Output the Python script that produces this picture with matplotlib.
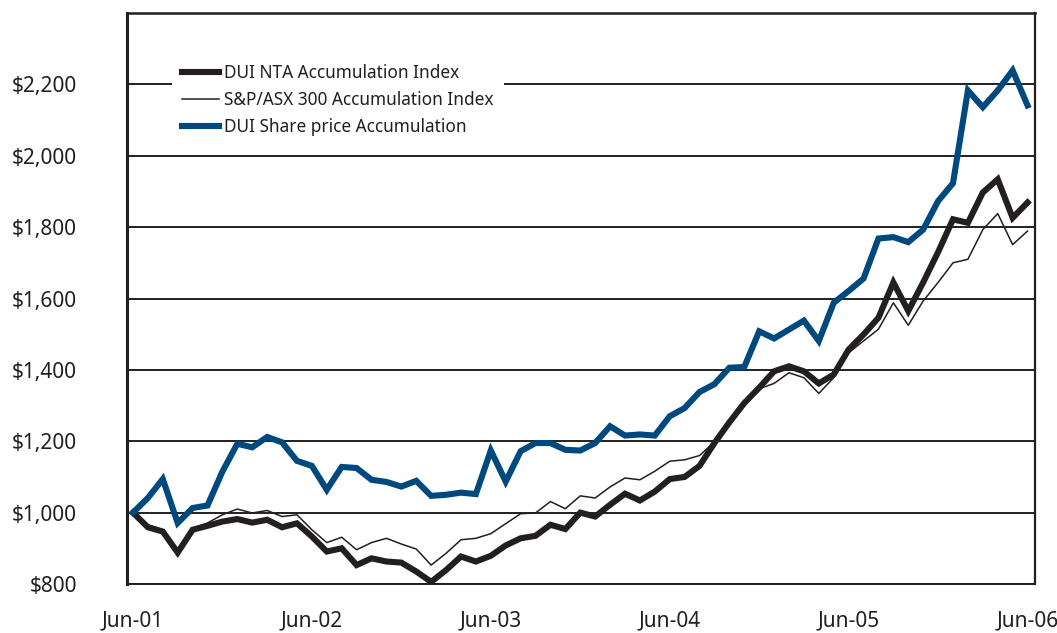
import matplotlib.pyplot as plt

plt.rcParams['font.family'] = ['Noto Sans', 'DejaVu Sans']

# month index 0 = Jun-01 ... 60 = Jun-06
x_ticks = [0, 12, 24, 36, 48, 60]
x_labels = ['Jun-01', 'Jun-02', 'Jun-03', 'Jun-04', 'Jun-05', 'Jun-06']
y_ticks = [800, 1000, 1200, 1400, 1600, 1800, 2000, 2200]

nta = [1000, 959, 947, 888, 952, 963, 975, 982, 972, 980,
       959, 970, 933, 891, 900, 853, 872, 863, 860, 835,
       806, 839, 877, 863, 879, 908, 928, 935, 966, 954,
       1000, 989, 1022, 1053, 1034, 1059, 1094, 1100, 1131, 1195,
       1253, 1307, 1350, 1396, 1410, 1396, 1362, 1387, 1457, 1499,
       1546, 1645, 1565, 1645, 1730, 1822, 1812, 1897, 1934, 1826, 1869]

asx300 = [1000, 966, 952, 896, 956, 971, 994, 1010, 999, 1006,
          989, 994, 952, 916, 931, 896, 916, 928, 912, 898,
          853, 886, 924, 928, 941, 969, 997, 999, 1031, 1011,
          1047, 1041, 1072, 1097, 1092, 1116, 1144, 1148, 1160, 1198,
          1245, 1300, 1347, 1362, 1392, 1378, 1334, 1378, 1448, 1481,
          1514, 1588, 1525, 1593, 1645, 1700, 1710, 1793, 1838, 1751, 1789]

share = [1000, 1041, 1094, 971, 1013, 1020, 1115, 1193, 1183, 1212,
         1197, 1145, 1131, 1064, 1128, 1125, 1092, 1086, 1073, 1089,
         1047, 1050, 1056, 1052, 1174, 1087, 1172, 1195, 1195, 1176,
         1174, 1195, 1242, 1216, 1219, 1216, 1270, 1293, 1338, 1360,
         1406, 1408, 1508, 1488, 1513, 1538, 1481, 1588, 1621, 1656,
         1768, 1772, 1758, 1793, 1873, 1923, 2183, 2136, 2183, 2239, 2141]

dark = '#231f20'
blue = '#00497e'

fig = plt.figure(figsize=(10.57, 6.33), dpi=100)
ax = fig.add_axes([127/1057, 1 - 584/633, (1035 - 127)/1057, (584 - 13)/633])

months = range(len(nta))
ax.plot(months, nta, color=dark, lw=4.4, solid_joinstyle='miter', label='DUI NTA Accumulation Index', zorder=3)
ax.plot(months, asx300, color=dark, lw=1.1, label='S&P/ASX 300 Accumulation Index', zorder=3)
ax.plot(months, share, color=blue, lw=4.4, solid_joinstyle='miter', label='DUI Share price Accumulation', zorder=3)

ax.set_xlim(-0.4, 60.5)
ax.set_ylim(800, 2400)
ax.set_yticks(y_ticks)
ax.set_yticklabels(['${:,}'.format(v) for v in y_ticks])
ax.set_xticks(x_ticks)
ax.set_xticklabels(x_labels)
ax.tick_params(axis='y', length=0, pad=36, labelsize=15, colors=dark)
ax.tick_params(axis='x', length=0, pad=19, labelsize=15, colors=dark)

ax.grid(axis='y', color=dark, lw=1.4)
ax.set_axisbelow(True)
for side in ['left', 'right', 'top', 'bottom']:
    ax.spines[side].set_color(dark)
ax.spines['left'].set_linewidth(2.2)
ax.spines['top'].set_linewidth(1.8)
ax.spines['right'].set_linewidth(1.6)
ax.spines['bottom'].set_linewidth(1.4)

leg = ax.legend(loc='upper left', bbox_to_anchor=(172/1057, 1 - 54/633),
                bbox_transform=fig.transFigure, fontsize=12.4, frameon=True,
                fancybox=False, facecolor='white', edgecolor='none', framealpha=1,
                borderpad=0.6, borderaxespad=0, handlelength=2.1,
                handletextpad=0.3, labelspacing=0.5)
for t in leg.get_texts():
    t.set_color(dark)
leg.set_zorder(5)

fig.savefig('out.png', dpi=100)
